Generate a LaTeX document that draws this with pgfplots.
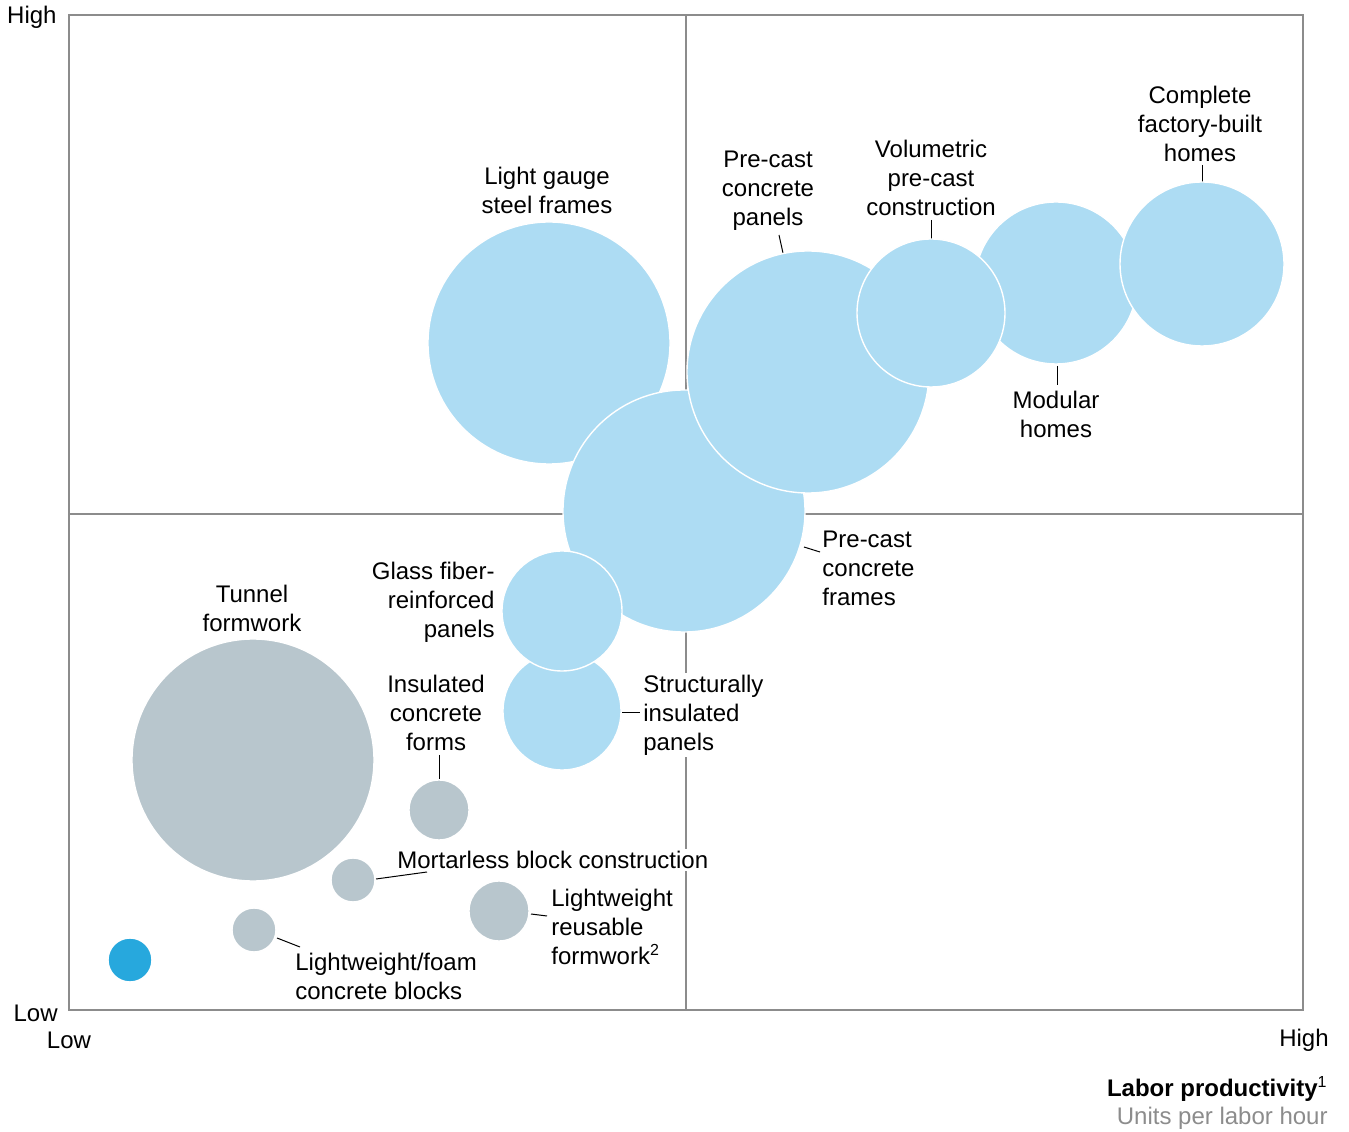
\documentclass[border=0pt]{standalone}
\usepackage{fontspec}
\setmainfont{Liberation Sans}
\usepackage{pgfplots}
\usepackage{pgfplotstable}
\pgfplotsset{compat=1.18}

\definecolor{bubbleblue}{HTML}{ADDCF3}
\definecolor{bubblegray}{HTML}{B8C6CD}
\definecolor{bubbledark}{HTML}{27A8DD}
\definecolor{framegray}{HTML}{8C8C8C}

% x, y in chart units, r = bubble radius (pt)
\pgfplotstableread{
x    y    r
480  667  60.5
615  499  60.5
739  638  60.5
987  727  40.5
862  697  37
1133 746  41
493  299  29.5
493  399  30
}\bluebubbles

\pgfplotstableread{
x    y    r
184  250  60.5
370  200  15
284  130  11
430   99  15
185   80  11
}\graybubbles

\pgfplotstableread{
x    y    r
61   50   11
}\darkbubbles

\pgfplotsset{
  bubble/.style={
    scatter, only marks, mark=*,
    point meta=\thisrow{r},
    visualization depends on={\thisrow{r} \as \rad},
    scatter/@pre marker code/.code={%
      \scope[mark size=\rad, draw=white, fill=#1, line width=0.7pt]},
    scatter/@post marker code/.code={\endscope},
  },
}
\tikzset{lbl/.style={font=\fontsize{12}{14.5}\selectfont, inner sep=1pt, fill=white}}

\begin{document}
\begin{tikzpicture}
\begin{axis}[
    x=0.5pt, y=0.5pt,
    xmin=0, xmax=1234, ymin=0, ymax=995,
    xtick=\empty, ytick=\empty,
    axis line style={draw=framegray, line width=0.8pt},
    clip=false,
]
\addplot[bubble=bubbleblue] table[x=x, y=y] {\bluebubbles};
\addplot[bubble=bubblegray] table[x=x, y=y] {\graybubbles};
\addplot[bubble=bubbledark] table[x=x, y=y] {\darkbubbles};

% quadrant lines
\draw[framegray, line width=1pt] (axis cs:617,0) -- (axis cs:617,995);
\draw[framegray, line width=1pt] (axis cs:0,496) -- (axis cs:1234,496);

% labels
\node[lbl, align=center] at (axis cs:478,820) {Light gauge\\steel frames};
\node[lbl, align=center] at (axis cs:699,819) {Pre-cast\\concrete\\panels};
\node[lbl, align=center] at (axis cs:862,832) {Volumetric\\pre-cast\\construction};
\node[lbl, align=center] at (axis cs:1131,886) {Complete\\factory-built\\homes};
\node[lbl, align=center] at (axis cs:987,596) {Modular\\homes};
\node[lbl, align=left, anchor=west] at (axis cs:751,442) {Pre-cast\\concrete\\frames};
\node[lbl, align=right, anchor=east] at (axis cs:428,408) {Glass fiber-\\reinforced\\panels};
\node[lbl, align=left, anchor=west] at (axis cs:572,295) {Structurally\\insulated\\panels};
\node[lbl, align=center] at (axis cs:183,402) {Tunnel\\formwork};
\node[lbl, align=center] at (axis cs:367,297) {Insulated\\concrete\\forms};
\node[lbl, anchor=west] at (axis cs:326,150) {Mortarless block construction};
\node[lbl, align=left, anchor=west] at (axis cs:480,83) {Lightweight\\reusable\\formwork\textsuperscript{2}};
\node[lbl, align=left, anchor=west] at (axis cs:224,34) {Lightweight/foam\\concrete blocks};

% leader lines
\draw[black, line width=0.5pt] (axis cs:710,775) -- (axis cs:714,757);
\draw[black, line width=0.5pt] (axis cs:862,790) -- (axis cs:862,770);
\draw[black, line width=0.5pt] (axis cs:1133,845) -- (axis cs:1133,828);
\draw[black, line width=0.5pt] (axis cs:988,644) -- (axis cs:988,625);
\draw[black, line width=0.5pt] (axis cs:735,463) -- (axis cs:751,458);
\draw[black, line width=0.5pt] (axis cs:553,297) -- (axis cs:571,297);
\draw[black, line width=0.5pt] (axis cs:370,255) -- (axis cs:370,231);
\draw[black, line width=0.5pt] (axis cs:307,131) -- (axis cs:358,138);
\draw[black, line width=0.5pt] (axis cs:462,96) -- (axis cs:478,94);
\draw[black, line width=0.5pt] (axis cs:208,72) -- (axis cs:231,63);

% axis end labels
\node[lbl, fill=none, anchor=east] at (axis cs:-10,993) {High};
\node[lbl, fill=none, anchor=east] at (axis cs:-9,-3) {Low};
\node[lbl, fill=none] at (axis cs:0,-30) {Low};
\node[lbl, fill=none] at (axis cs:1235,-30) {High};
\node[lbl, fill=none, anchor=east] at (axis cs:1261,-79) {\bfseries Labor productivity\textsuperscript{\mdseries 1}};
\node[lbl, fill=none, anchor=east, text=framegray] at (axis cs:1261,-108) {Units per labor hour};

\path (axis cs:-69,-120) rectangle (axis cs:1280,1010);
\end{axis}
\end{tikzpicture}
\end{document}
